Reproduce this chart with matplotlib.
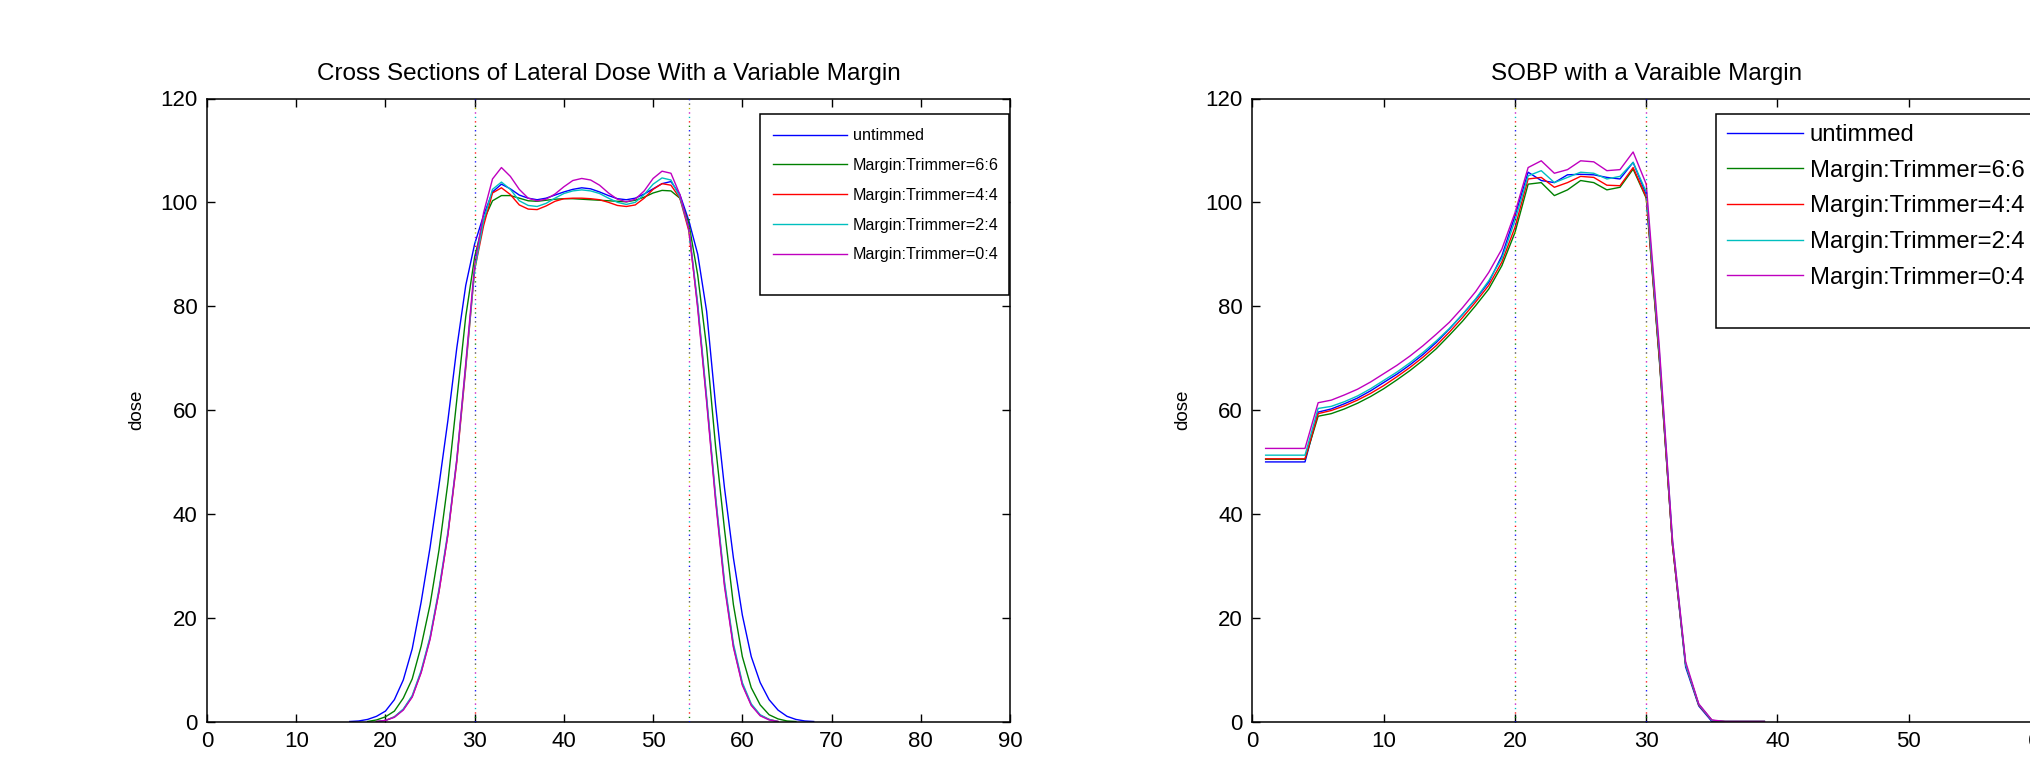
import numpy as np
import matplotlib
matplotlib.use("Agg")
import matplotlib.pyplot as plt
from matplotlib.patches import Rectangle

plt.rcParams['font.family'] = ['Liberation Sans', 'DejaVu Sans']

labels = ['untimmed', 'Margin:Trimmer=6:6', 'Margin:Trimmer=4:4',
          'Margin:Trimmer=2:4', 'Margin:Trimmer=0:4']
colors = ['#0000ff', '#008000', '#ff0000', '#00bfbf', '#bf00bf']
guide_colors = ['#0000ff', '#008000', '#ff0000', '#00bfbf', '#bf00bf', '#bfbf00', '#404040']

# lateral profile (mm) -- NaN where a profile was not recorded
lat_x = list(range(15, 70))
nan = float('nan')
lat_untrimmed = [nan, 0.0, 0.1, 0.4, 1.0, 2.0, 4.2, 8.0, 14.0, 23.0, 33.5, 45.5, 58.0, 72.0, 84.0,
                 92.0, 97.5, 102.0, 103.5, 102.6, 101.4, 100.8, 100.5, 100.8, 101.4, 102.0, 102.5,
                 102.8, 102.6, 102.0, 101.3, 100.7, 100.5, 100.8, 101.6, 102.6, 103.6, 104.0, 101.5,
                 96.5, 90.0, 79.0, 61.0, 45.0, 31.5, 20.5, 12.5, 7.5, 4.2, 2.2, 1.0, 0.4, 0.1, 0.0, nan]
lat_m66 = [nan, nan, nan, 0.0, 0.3, 0.9, 2.0, 4.5, 8.2, 14.5, 22.5, 33.0, 46.0, 62.0, 78.0,
           89.5, 96.5, 100.3, 101.3, 101.3, 100.8, 100.3, 100.2, 100.4, 100.6, 100.7, 100.7,
           100.6, 100.5, 100.4, 100.3, 100.2, 100.1, 100.4, 101.0, 101.8, 102.3, 102.2, 100.8,
           96.0, 86.0, 72.0, 53.0, 37.0, 22.5, 12.5, 6.5, 3.2, 1.3, 0.5, 0.1, 0.0, nan, nan, nan]
lat_m44 = [nan, nan, nan, nan, 0.0, 0.2, 0.9, 2.3, 4.8, 9.5, 16.0, 25.0, 36.0, 50.0, 68.0,
           87.0, 95.5, 101.8, 102.8, 101.5, 99.5, 98.7, 98.6, 99.3, 100.2, 100.7, 100.8,
           100.8, 100.7, 100.5, 100.0, 99.4, 99.2, 99.5, 100.8, 102.5, 103.6, 103.3, 100.8,
           94.5, 80.0, 62.0, 43.0, 26.5, 14.5, 7.2, 3.2, 1.2, 0.4, 0.0, nan, nan, nan, nan, nan]
lat_m24 = [nan, nan, nan, nan, 0.0, 0.2, 0.9, 2.4, 5.0, 9.8, 16.3, 25.5, 36.5, 50.5, 68.5,
           87.0, 96.5, 102.5, 103.9, 102.5, 100.3, 99.4, 99.2, 99.8, 100.8, 101.7, 102.2,
           102.4, 102.2, 101.7, 100.8, 100.0, 99.6, 100.0, 101.5, 103.5, 104.7, 104.3, 101.0,
           95.0, 80.5, 62.5, 43.5, 27.0, 15.0, 7.5, 3.4, 1.3, 0.4, 0.0, nan, nan, nan, nan, nan]
lat_m04 = [nan, nan, nan, nan, 0.0, 0.2, 0.8, 2.2, 4.7, 9.4, 15.8, 25.0, 36.0, 50.5, 69.0,
           88.0, 98.0, 104.5, 106.7, 105.0, 102.5, 100.8, 100.3, 100.6, 101.6, 103.0, 104.2,
           104.6, 104.3, 103.3, 101.8, 100.6, 100.1, 100.6, 102.2, 104.6, 106.0, 105.6, 101.5,
           95.0, 79.5, 61.5, 42.5, 26.0, 14.3, 7.0, 3.1, 1.1, 0.3, 0.0, nan, nan, nan, nan, nan]
lat_edges = [30, 54]

# depth dose (SOBP)
depth_x = list(range(1, 40))
sobp_untrimmed = [50.0, 50.0, 50.0, 50.0, 59.6, 60.2, 61.2, 62.3, 63.7, 65.3, 66.9, 68.7, 70.7,
                  73.0, 75.6, 78.4, 81.3, 84.6, 89.7, 97.4, 105.8, 104.2, 103.8, 105.3, 105.4,
                  105.3, 104.8, 104.5, 107.7, 101.5, 70.0, 34.0, 10.5, 3.0, 0.0, 0.0, 0.0, 0.0, 0.0]
sobp_m66 = [50.5, 50.5, 50.5, 50.5, 58.8, 59.3, 60.2, 61.3, 62.6, 64.1, 65.8, 67.6, 69.6,
            71.8, 74.4, 77.1, 80.1, 83.3, 87.8, 94.2, 103.5, 103.8, 101.3, 102.4, 104.2,
            103.8, 102.4, 102.9, 106.4, 100.8, 69.5, 34.0, 11.0, 3.2, 0.2, 0.0, 0.0, 0.0, 0.0]
sobp_m44 = [50.6, 50.6, 50.6, 50.6, 59.3, 59.9, 60.8, 61.9, 63.2, 64.7, 66.4, 68.2, 70.2,
            72.4, 75.0, 77.8, 80.8, 84.0, 88.5, 95.2, 104.5, 104.8, 102.9, 103.8, 105.0,
            104.8, 103.3, 103.2, 106.7, 101.0, 70.0, 34.0, 11.0, 3.2, 0.2, 0.0, 0.0, 0.0, 0.0]
sobp_m24 = [51.3, 51.3, 51.3, 51.3, 60.3, 60.7, 61.6, 62.7, 64.1, 65.7, 67.3, 69.1, 71.1,
            73.3, 75.7, 78.4, 81.4, 84.9, 89.2, 96.5, 105.1, 106.1, 103.8, 104.8, 105.8,
            105.6, 104.5, 105.0, 107.7, 102.0, 71.0, 35.0, 11.0, 3.3, 0.2, 0.0, 0.0, 0.0, 0.0]
sobp_m04 = [52.6, 52.6, 52.6, 52.6, 61.4, 61.9, 62.9, 64.0, 65.4, 67.0, 68.6, 70.4, 72.4,
            74.6, 76.9, 79.7, 82.8, 86.5, 91.0, 98.0, 106.7, 108.0, 105.6, 106.3, 108.0,
            107.8, 106.1, 106.3, 109.7, 103.5, 72.0, 35.0, 11.5, 3.4, 0.3, 0.0, 0.0, 0.0, 0.0]
sobp_edges = [20, 30]

W, H = 2031, 760
fig = plt.figure(figsize=(W / 100, H / 100), dpi=100)
ax1 = fig.add_axes([207 / W, 38.5 / H, 803 / W, 623 / H])
ax2 = fig.add_axes([1252.5 / W, 38.5 / H, 787.5 / W, 623 / H])


def guide(ax, x):
    # matlab-style multicoloured dotted marker line
    period = 3.2 * len(guide_colors)
    for i, c in enumerate(guide_colors):
        off = (period - i * 3.2) % period
        ax.plot([x, x], [0, 120], color=c, lw=1.0,
                linestyle=(off, (0.9, period - 0.9)), zorder=3)


def style(ax, title, xmax):
    ax.set_xlim(0, xmax)
    ax.set_ylim(0, 120)
    ax.set_xticks(range(0, xmax + 1, 10))
    ax.set_yticks(range(0, 121, 20))
    ax.tick_params(direction='in', top=True, right=True, length=6, width=1,
                   labelsize=16, pad=7)
    for s in ax.spines.values():
        s.set_linewidth(1.1)
    ax.set_title(title, fontsize=17.5, pad=13)
    ax.set_ylabel('dose', fontsize=13.5, labelpad=10.5)


def legend_box(ax, box, anchor, size, hlen, hpad, lspace):
    # legend entries without frame, boxed by a plain rectangle
    x0, y0, x1, y1 = box
    ax.add_patch(Rectangle((x0, y0), x1 - x0, y1 - y0, transform=ax.transAxes,
                           facecolor='white', edgecolor='black', lw=1.1,
                           zorder=4.5, clip_on=False))
    leg = ax.legend(loc='upper left', bbox_to_anchor=anchor, borderaxespad=0,
                    frameon=False, fontsize=size, handlelength=hlen,
                    handletextpad=hpad, labelspacing=lspace, borderpad=0.45)
    leg.set_zorder(5)


for ys, c, lab in zip([lat_untrimmed, lat_m66, lat_m44, lat_m24, lat_m04], colors, labels):
    ax1.plot(lat_x, ys, color=c, lw=1.0, label=lab)
for e in lat_edges:
    guide(ax1, e)
style(ax1, 'Cross Sections of Lateral Dose With a Variable Margin', 90)
legend_box(ax1, (0.689, 0.684, 0.9988, 0.975), (0.6956, 0.964), 11.6, 4.6, 0.35, 0.92)

for ys, c, lab in zip([sobp_untrimmed, sobp_m66, sobp_m44, sobp_m24, sobp_m04], colors, labels):
    ax2.plot(depth_x, ys, color=c, lw=1.0, label=lab)
for e in sobp_edges:
    guide(ax2, e)
style(ax2, 'SOBP with a Varaible Margin', 60)
legend_box(ax2, (0.5886, 0.632, 1.03, 0.975), (0.5889, 0.976), 17.2, 3.2, 0.26, 0.57)

fig.savefig('out.png', dpi=100)
